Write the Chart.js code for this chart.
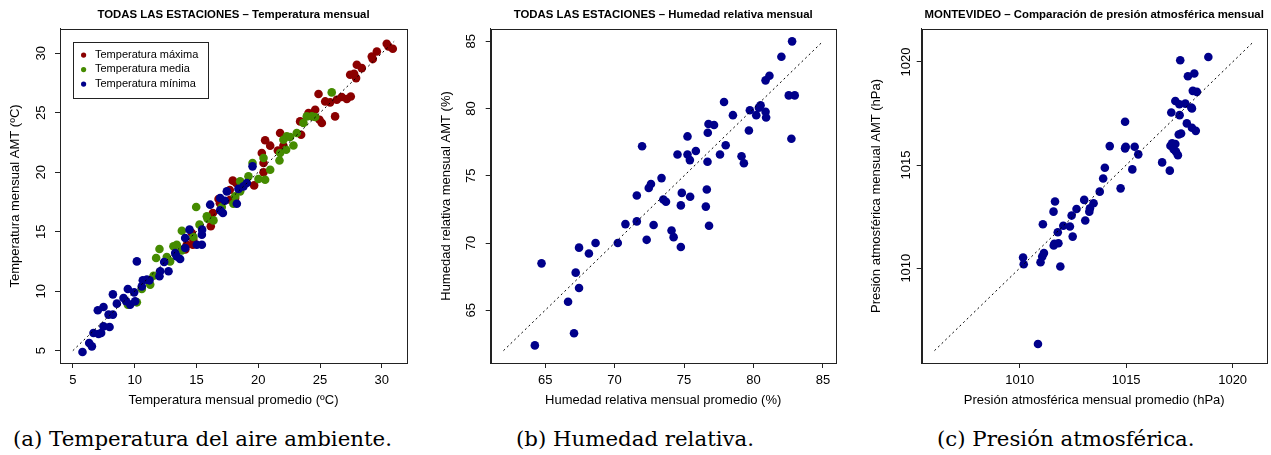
<!DOCTYPE html>
<html>
<head>
<meta charset="utf-8">
<script src="https://cdn.jsdelivr.net/npm/chart.js@4.4.0/dist/chart.umd.min.js"></script>
<style>
  body { margin: 0; background: #fff; width: 1271px; height: 455px; position: relative; overflow: hidden; }
  .panel { position: absolute; top: 0; height: 410px; }
  .caption { position: absolute; top: 426px; font-family: "DejaVu Serif", serif; font-size: 21.3px; line-height: 26px; white-space: nowrap; color: #000; }
</style>
</head>
<body>
<div class="panel" style="left:0px;width:420px"><canvas id="c1" width="420" height="410"></canvas></div>
<div class="panel" style="left:420px;width:420px"><canvas id="c2" width="420" height="410"></canvas></div>
<div class="panel" style="left:840px;width:431px"><canvas id="c3" width="431" height="410"></canvas></div>
<div class="caption" style="left:13px">(a) Temperatura del aire ambiente.</div>
<div class="caption" style="left:516px">(b) Humedad relativa.</div>
<div class="caption" style="left:937px">(c) Presión atmosférica.</div>
<script>
// temperatura (x = promedio, y = AMT)
const tempMaxX = [14.22,14.71,14.63,14.1,14.75,16.16,16.33,16.79,17.73,17.94,18.21,18.13,19.67,20.29,20.43,20.43,20.56,20.97,21.59,21.77,22.04,23.39,23.47,24.07,24.61,24.88,24.96,25.15,25.42,25.82,26.22,26.36,26.76,27.17,27.49,27.44,27.76,27.92,27.98,28.38,29.19,29.27,29.6,30.4,30.54,30.89,17.7,16.9];
const tempMaxY = [13.9,13.9,14.89,13.5,14.3,15.45,16.57,17.75,17.69,19.29,19.09,17.83,18.89,21.61,19.99,20.77,22.68,22.23,21.83,23.29,22.23,24.27,23.15,24.97,25.25,26.57,24.41,24.13,25.95,25.87,24.69,26.09,26.32,26.15,26.37,28.19,28.27,27.91,29.03,28.75,29.73,29.51,30.15,30.8,30.57,30.38,18.5,17.4];
const tempMedX = [9.45,10.18,10.58,11.26,11.53,11.74,12.01,12.87,12.6,13.14,13.41,13.82,13.82,14.98,14.76,15.25,15.84,16.38,15.9,17.05,17.99,18.13,18.54,18.54,19.21,19.54,20.02,20.56,20.43,20.97,21.72,21.77,22.04,22.31,22.58,22.26,22.85,23.12,23.66,23.93,24.34,24.61,25.95];
const tempMedY = [8.87,9.06,10.18,10.55,11.3,12.79,13.54,12.5,12.87,13.77,13.9,15.08,13.43,17.07,14.55,15.59,16.29,15.95,16.1,17.07,17.35,17.97,18.39,19.23,19.65,20.77,19.43,19.37,21.19,20.21,20.99,21.61,22.73,23.01,22.96,21.89,22.25,23.29,24.13,24.69,24.69,24.64,26.71];
const tempMinX = [5.78,6.32,6.54,6.67,7.08,7.29,7.02,7.48,7.48,7.97,7.89,8.24,8.24,8.56,9.1,9.31,9.64,9.45,10.04,9.96,10.18,10.66,10.99,11.2,12.07,12.01,12.39,12.74,13.28,13.68,14.09,14.09,14.44,15.03,15.44,15.44,15.46,16.11,16.92,17.14,16.92,17.46,18.27,18.81,19.08,19.54,10.58,13.41,17.3,18.4];
const tempMinY = [4.89,5.64,5.36,6.48,6.4,6.48,8.39,8.67,7.04,6.99,8.03,8.03,9.73,8.95,9.43,9.15,8.87,10.18,9.15,9.9,12.5,10.91,10.97,10.91,11.67,11.25,12.45,11.67,13.2,12.7,13.63,14.47,15.17,13.9,13.9,14.75,15.17,17.27,16.79,16.57,17.83,18.39,17.35,18.81,19.09,20.49,10.4,12.92,17.6,18.6];
const tempLinea = [5, 31];

// humedad relativa
const humX = [64.26,64.74,67.08,66.65,67.2,67.44,67.44,68.15,68.63,70.23,70.78,71.6,71.6,71.98,72.31,72.46,72.62,72.81,73.38,73.51,73.7,74.1,74.25,74.53,74.77,74.77,74.84,75.25,75.25,75.42,75.44,75.85,76.57,76.64,76.69,76.71,76.76,77.16,76.8,77.59,77.88,78.0,78.52,79.14,79.31,79.67,79.74,80.2,80.39,80.51,80.87,80.91,80.87,81.15,82.01,82.54,82.97,82.73,82.78];
const humY = [62.39,68.49,63.29,65.63,67.8,66.66,69.66,69.22,70.0,70.0,71.41,73.54,71.61,77.2,70.24,74.1,74.39,71.34,74.83,73.24,73.07,70.93,70.44,76.59,69.71,72.8,73.73,77.93,76.59,76.17,73.44,76.85,72.71,73.98,76.05,78.2,78.85,78.78,71.29,76.59,80.49,77.27,79.51,76.46,75.93,78.37,79.88,79.51,80.07,80.24,79.76,79.34,82.1,82.44,83.85,80.98,80.98,77.76,85.0];
const humLinea = [62, 85];

// presión atmosférica (Montevideo)
const presX = [1010.86,1010.16,1010.19,1010.98,1011.06,1011.14,1011.91,1011.09,1011.6,1011.63,1011.82,1011.79,1011.59,1011.66,1012.05,1012.36,1012.49,1012.44,1012.67,1013.08,1013.03,1013.27,1013.3,1013.47,1013.76,1013.92,1014.0,1014.23,1014.74,1014.95,1014.95,1014.98,1015.29,1015.4,1015.57,1016.69,1017.05,1017.08,1017.16,1017.31,1017.23,1017.34,1017.43,1017.12,1017.31,1017.5,1017.51,1017.47,1017.58,1017.54,1017.78,1017.85,1017.9,1018.06,1018.09,1018.2,1018.13,1018.32,1018.09,1018.27,1018.86];
const presY = [1006.32,1010.52,1010.19,1010.29,1010.56,1010.73,1010.08,1012.13,1011.1,1011.18,1011.21,1011.74,1012.74,1013.23,1012.06,1012.02,1011.53,1012.55,1012.87,1012.31,1013.31,1012.74,1012.9,1013.15,1013.71,1014.35,1014.87,1015.92,1013.87,1017.1,1015.81,1015.89,1014.79,1015.89,1015.52,1015.13,1014.73,1015.94,1016.05,1016.02,1015.77,1015.65,1015.48,1017.55,1018.11,1017.95,1017.42,1016.48,1016.53,1020.08,1017.98,1017.02,1019.31,1017.79,1017.74,1019.44,1018.6,1018.55,1016.81,1016.66,1020.24];
const presLinea = [1006, 1021];

const ROJO = '#8B0000', VERDE = '#458B00', AZUL = '#00008B';

Chart.defaults.font.family = '"Liberation Sans", Arial, sans-serif';
Chart.defaults.color = '#000';

function puntos(xs, ys) {
  return xs.map((x, i) => ({x: x, y: ys[i]}));
}

function serie(label, xs, ys, color, order) {
  return {label: label, data: puntos(xs, ys), backgroundColor: color, borderColor: color,
          pointRadius: 4.3, pointBorderWidth: 0, pointHoverRadius: 4.3, order: order};
}

function diagonal(lim) {
  return {label: 'y = x', data: [{x: lim[0], y: lim[0]}, {x: lim[1], y: lim[1]}],
          showLine: true, pointRadius: 0, borderColor: '#000', borderWidth: 1,
          borderDash: [2, 3], order: 0};
}

// caja estilo R, etiquetas del eje y giradas y leyenda
const marcoR = {
  id: 'marcoR',
  afterDraw(chart, args, opts) {
    const ctx = chart.ctx, a = chart.chartArea, ys = chart.scales.y;
    ctx.save();
    ctx.strokeStyle = '#222';
    ctx.lineWidth = 1;
    ctx.strokeRect(Math.round(a.left) + 0.5, Math.round(a.top) + 0.5,
                   Math.round(a.right - a.left), Math.round(a.bottom - a.top));
    ctx.fillStyle = '#000';
    ctx.font = '13px "Liberation Sans"';
    ctx.textAlign = 'center';
    ctx.textBaseline = 'middle';
    ys.ticks.forEach(t => {
      const py = ys.getPixelForValue(t.value);
      ctx.save();
      ctx.translate(a.left - opts.yLab, py);
      ctx.rotate(-Math.PI / 2);
      ctx.fillText(String(t.value), 0, 0);
      ctx.restore();
    });
    if (opts.leyenda) {
      const L = opts.leyenda;
      ctx.fillStyle = '#fff';
      ctx.fillRect(L.x, L.y, L.w, L.h);
      ctx.strokeStyle = '#222';
      ctx.strokeRect(L.x + 0.5, L.y + 0.5, L.w, L.h);
      ctx.font = '11px "Liberation Sans"';
      ctx.textAlign = 'left';
      const ds = chart.data.datasets.filter(d => !d.showLine)
        .sort((p, q) => q.order - p.order);
      ds.forEach((d, i) => {
        const cy = L.y + 12.6 + i * 14.5;
        ctx.fillStyle = d.backgroundColor;
        ctx.beginPath();
        ctx.arc(L.x + 10.6, cy + 0.5, 2.6, 0, Math.PI * 2);
        ctx.fill();
        ctx.fillStyle = '#000';
        ctx.fillText(d.label, L.x + 22, cy);
      });
    }
    ctx.restore();
  }
};

function panel(id, p) {
  return new Chart(document.getElementById(id), {
    type: 'scatter',
    data: {datasets: p.datasets},
    options: {
      responsive: false,
      animation: false,
      devicePixelRatio: 1,
      layout: {padding: {top: 0, right: p.padRight, bottom: 0, left: 0}},
      plugins: {
        legend: {display: false},
        tooltip: {enabled: false},
        title: {display: true, text: p.title, fullSize: false, color: '#000',
                font: {size: 11.4, weight: 'bold'}, padding: {top: 8.2, bottom: 7.1}},
        marcoR: {yLab: p.yLab, leyenda: p.leyenda}
      },
      scales: {
        x: {
          type: 'linear', min: p.lim[0], max: p.lim[1],
          afterFit: s => { s.height = 47; },
          ticks: {stepSize: 5, includeBounds: false, maxRotation: 0, padding: 5,
                  font: {size: 13}, color: '#000', callback: v => String(v)},
          grid: {drawOnChartArea: false, tickLength: 5, color: '#222'},
          border: {color: '#222'},
          title: {display: true, text: p.xTitle, color: '#000', font: {size: 13},
                  padding: {top: 0, bottom: 2.2}}
        },
        y: {
          type: 'linear', min: p.lim[0], max: p.lim[1],
          afterFit: s => { s.width = p.left; },
          ticks: {display: false, stepSize: 5, includeBounds: false},
          grid: {drawOnChartArea: false, tickLength: 5, color: '#222'},
          border: {color: '#222'},
          title: {display: true, text: p.yTitle, color: '#000', font: {size: 13},
                  padding: {top: p.yTitleX - 7.8, bottom: 0}}
        }
      }
    },
    plugins: [marcoR]
  });
}

panel('c1', {
  title: 'TODAS LAS ESTACIONES \u2013 Temperatura mensual',
  xTitle: 'Temperatura mensual promedio (ºC)',
  yTitle: 'Temperatura mensual AMT (ºC)',
  lim: [3.96, 32.04], left: 60, padRight: 13, yLab: 18.3, yTitleX: 15,
  leyenda: {x: 73, y: 42, w: 135, h: 56},
  datasets: [
    diagonal(tempLinea),
    serie('Temperatura máxima', tempMaxX, tempMaxY, ROJO, 3),
    serie('Temperatura media', tempMedX, tempMedY, VERDE, 2),
    serie('Temperatura mínima', tempMinX, tempMinY, AZUL, 1)
  ]
});

panel('c2', {
  title: 'TODAS LAS ESTACIONES \u2013 Humedad relativa mensual',
  xTitle: 'Humedad relativa mensual promedio (%)',
  yTitle: 'Humedad relativa mensual AMT (%)',
  lim: [61.08, 85.92], left: 70.7, padRight: 3.3, yLab: 19, yTitleX: 26.7,
  datasets: [diagonal(humLinea), serie('Humedad relativa', humX, humY, AZUL, 1)]
});

panel('c3', {
  title: 'MONTEVIDEO \u2013 Comparación de presión atmosférica mensual',
  xTitle: 'Presión atmosférica mensual promedio (hPa)',
  yTitle: 'Presión atmosférica mensual AMT (hPa)',
  lim: [1005.4, 1021.6], left: 81.7, padRight: 2.7, yLab: 15, yTitleX: 36.7,
  datasets: [diagonal(presLinea), serie('Presión atmosférica', presX, presY, AZUL, 1)]
});
</script>
</body>
</html>
